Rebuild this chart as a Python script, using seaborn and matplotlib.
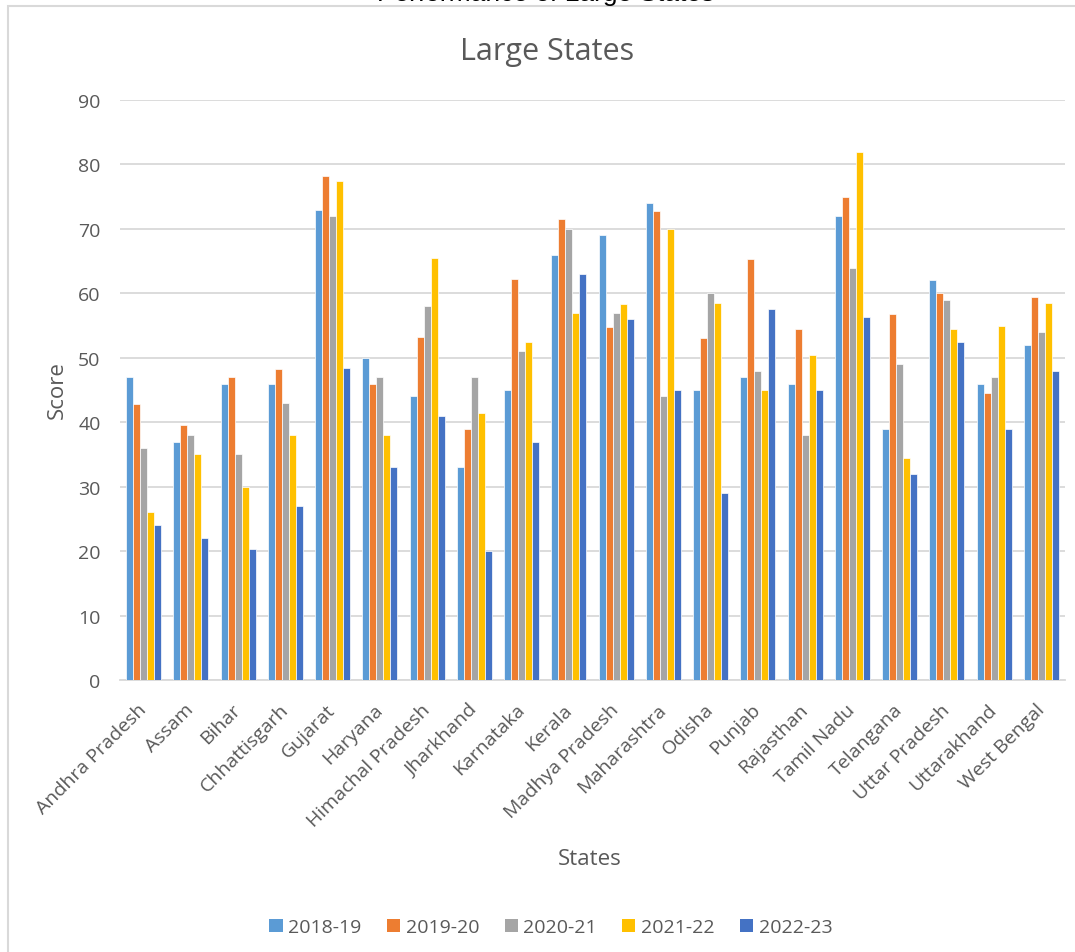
import matplotlib
matplotlib.use("Agg")
import matplotlib.pyplot as plt
import seaborn as sns
import pandas as pd
from matplotlib.patches import Rectangle

states = ["Andhra Pradesh", "Assam", "Bihar", "Chhattisgarh", "Gujarat", "Haryana",
          "Himachal Pradesh", "Jharkhand", "Karnataka", "Kerala", "Madhya Pradesh",
          "Maharashtra", "Odisha", "Punjab", "Rajasthan", "Tamil Nadu", "Telangana",
          "Uttar Pradesh", "Uttarakhand", "West Bengal"]
years = ["2018-19", "2019-20", "2020-21", "2021-22", "2022-23"]

s2018_19 = [47, 37, 46, 46, 73, 50, 44, 33, 45, 66, 69, 74, 45, 47, 46, 72, 39, 62, 46, 52]
s2019_20 = [42.8, 39.6, 47, 48.3, 78.2, 46, 53.3, 39, 62.2, 71.6, 54.7, 72.7, 53.1, 65.4, 54.4, 75, 56.8, 60.1, 44.6, 59.4]
s2020_21 = [36, 38, 35, 43, 72, 47, 58, 47, 51, 70, 57, 44, 60, 48, 38, 64, 49, 59, 47, 54]
s2021_22 = [26, 35, 30, 38, 77.5, 38, 65.5, 41.4, 52.4, 57, 58.4, 70, 58.5, 45, 50.4, 82, 34.4, 54.4, 55, 58.5]
s2022_23 = [24, 22, 20.4, 27, 48.4, 33, 41, 20, 37, 63, 56, 45, 29, 57.5, 45, 56.4, 32, 52.4, 39, 48]

colors = ["#5B9BD5", "#ED7D31", "#A5A5A5", "#FFC000", "#4472C4"]

series = [s2018_19, s2019_20, s2020_21, s2021_22, s2022_23]
rows = []
for y, vals in zip(years, series):
    for st, v in zip(states, vals):
        rows.append({"State": st, "Year": y, "Score": v})
df = pd.DataFrame(rows)

sns.set_theme(style="white")
plt.rcParams["font.family"] = ["Open Sans", "DejaVu Sans"]
text_color = "#595959"

fig = plt.figure(figsize=(10.75, 9.53), dpi=100)
ax = fig.add_axes([120/1075, (953-681)/953, (1065-120)/1075, (681-101)/953])

sns.barplot(data=df, x="State", y="Score", hue="Year", palette=colors, order=states,
            hue_order=years, width=0.74, saturation=1, edgecolor="white", linewidth=0.5,
            errorbar=None, ax=ax, zorder=3)

ax.set_ylim(0, 90)
ax.set_xlim(-0.5, len(states) - 0.5)
ax.set_yticks(range(0, 91, 10))
ax.yaxis.grid(True, color="#D9D9D9", linewidth=1.3, zorder=0)
ax.set_axisbelow(True)
for sp in ["top", "right", "left"]:
    ax.spines[sp].set_visible(False)
ax.spines["bottom"].set_color("#D9D9D9")
ax.spines["bottom"].set_linewidth(1.3)
ax.tick_params(axis="both", length=0, labelsize=14, labelcolor=text_color)
ax.tick_params(axis="y", pad=14)
ax.tick_params(axis="x", pad=19)
for lab in ax.get_xticklabels():
    lab.set_rotation(45)
    lab.set_ha("right")
    lab.set_va("center")
    lab.set_rotation_mode("anchor")

ax.set_xlabel("States", fontsize=16, color=text_color)
ax.set_ylabel("Score", fontsize=16, color=text_color)
ax.xaxis.set_label_coords((590-120)/945, -(849-681)/580)
ax.yaxis.set_label_coords(-(120-68)/945, (681-390)/580)

ax.get_legend().remove()
handles = [Rectangle((0, 0), 1, 1, facecolor=c, edgecolor="none") for c in colors]
fig.legend(handles, years, loc="center", bbox_to_anchor=(551/1075, (953-928)/953),
           ncol=5, frameon=False, fontsize=14, handlelength=0.67, handleheight=0.67,
           handletextpad=0.3, columnspacing=1.3, labelcolor=text_color)

fig.text(547/1075, (953-60)/953, "Large States", ha="center", va="baseline",
         fontsize=22, color=text_color)
fig.text(546/1075, (953-1)/953, "Performance of Large States", ha="center",
         va="baseline", fontsize=19, color="black", family=["Liberation Sans", "DejaVu Sans"])

border = Rectangle((8/1075, -0.05), 1.2, (953-7)/953 + 0.05, transform=fig.transFigure,
                   fill=False, edgecolor="#D9D9D9", linewidth=1.5)
fig.patches.append(border)

fig.savefig("out.png", dpi=100)
